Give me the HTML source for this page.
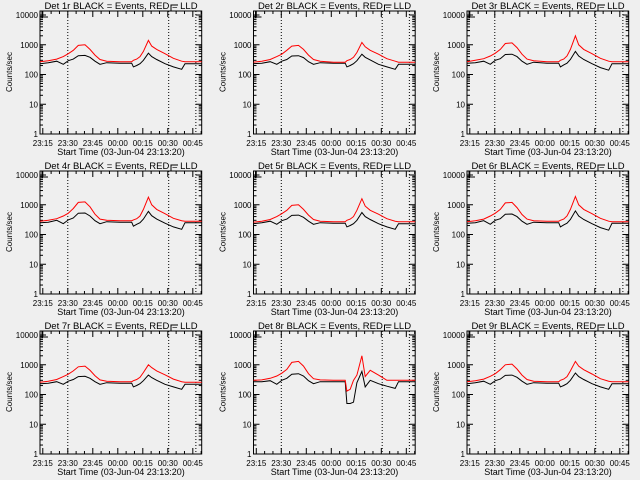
<!DOCTYPE html>
<html><head><meta charset="utf-8"><style>
html,body{margin:0;padding:0;background:#efefef;}
svg{display:block;font-family:"Liberation Sans",sans-serif;}
</style></head><body>
<svg id="c" width="640" height="480" viewBox="0 0 640 480">
<rect width="640" height="480" fill="#efefef"/>
</svg>
<script>
const titles = ["Det 1r","Det 2r","Det 3r","Det 4r","Det 5r","Det 6r","Det 7r","Det 8r","Det 9r"];
const times = [0,5,10,14,17,20,23,27,30,33,36,40,48,55,56,58,60,62,65,67,70,75,80,85,87,90,97];
const xTickLabels = ["23:15","23:30","23:45","00:00","00:15","00:30","00:45"];
const xTickMinutes = [1.67,16.67,31.67,46.67,61.67,76.67,91.67];
const dottedMinutes = [16.67,77.2,93.5];
const yTickLabels = ["1","10","100","1000","10000"];
const red = [
 [270,290,330,400,500,650,950,1000,700,450,320,280,270,270,300,330,400,600,1400,900,700,500,350,280,270,270,270],
 [260,280,320,400,480,650,900,950,700,450,320,280,260,260,290,320,380,550,1200,850,650,480,340,280,260,260,260],
 [270,300,340,420,520,700,1100,1150,800,480,330,290,270,270,300,330,420,700,2000,1000,700,500,350,280,270,270,270],
 [280,300,340,420,520,750,1200,1250,850,480,330,300,290,290,310,340,420,700,1800,1000,700,500,350,290,280,280,280],
 [260,280,320,400,500,650,950,1000,700,450,320,280,270,270,300,330,400,650,1600,900,650,480,340,280,270,270,270],
 [270,290,330,420,520,700,1150,1200,800,470,330,290,280,280,300,330,420,700,1900,1000,700,500,350,280,270,270,270],
 [260,280,320,400,480,620,850,900,650,430,310,280,270,270,290,320,380,550,1000,800,620,460,330,270,260,260,260],
 [300,310,350,420,520,700,1200,1300,900,500,340,310,300,300,130,150,300,450,2000,400,650,450,300,300,300,300,300],
 [270,290,330,410,500,680,1000,1050,720,450,320,280,270,270,300,330,400,620,1300,900,680,490,340,280,270,270,270]
];
const black = [
 [230,250,280,220,290,330,430,440,380,280,220,250,240,240,180,200,230,300,520,400,320,230,180,150,230,230,230],
 [230,240,270,220,280,320,420,430,370,270,220,250,240,240,180,200,230,290,480,380,310,220,180,150,220,220,220],
 [240,250,280,220,300,340,470,480,400,280,220,260,240,240,180,210,240,320,600,420,320,230,170,140,230,230,230],
 [250,260,300,230,310,360,520,530,420,290,230,270,260,260,190,220,250,330,600,430,330,240,180,150,250,250,250],
 [230,250,280,220,290,330,440,450,380,280,220,250,240,240,180,200,230,300,550,400,320,230,180,150,230,230,230],
 [240,250,290,220,300,340,480,490,400,280,220,260,250,250,180,210,240,320,620,420,320,230,170,140,240,240,240],
 [230,240,270,220,280,320,400,410,350,270,220,250,240,240,180,200,230,290,450,370,300,220,180,150,220,220,220],
 [270,270,290,220,300,350,480,500,420,290,230,270,270,270,50,50,55,250,600,180,300,230,190,160,270,270,270],
 [230,250,280,220,290,330,440,450,380,280,220,250,240,240,180,200,230,300,530,400,320,230,180,150,230,230,230]
];
const NS="http://www.w3.org/2000/svg";
const svg=document.getElementById('c');
function mk(tag,attrs,parent){const e=document.createElementNS(NS,tag);for(const k in attrs)e.setAttribute(k,attrs[k]);parent.appendChild(e);return e;}
const L=40,R=201.7,T=11,B=134,TMAX=97;
const yAt=v=>B-Math.log10(v)*29.75;
const xAt=t=>L+t*(R-L)/TMAX;
for(let p=0;p<9;p++){
  const g=mk('g',{transform:`translate(${(p%3)*213.5},${Math.floor(p/3)*160})`},svg);
  
  
  const box=mk('rect',{x:L,y:T,width:R-L,height:B-T,fill:'none',stroke:'#000','stroke-width':1},g);
  
  
  for(let d=0;d<=4;d++){
    const y=yAt(Math.pow(10,d));
    mk('line',{x1:L,x2:L+6,y1:y,y2:y,stroke:'#000'},g);
    mk('line',{x1:R,x2:R-6,y1:y,y2:y,stroke:'#000'},g);
    const tl=mk('text',{x:L-2,y:y+3,'font-size':8,'text-anchor':'end'},g);
    tl.textContent=yTickLabels[d];
    
    
    if(d<4)for(let m=2;m<=9;m++){const ym=yAt(m*Math.pow(10,d));
      mk('line',{x1:L,x2:L+3,y1:ym,y2:ym,stroke:'#000'},g);
      mk('line',{x1:R,x2:R-3,y1:ym,y2:ym,stroke:'#000'},g);}
  }
  for(let m=1.67;m<TMAX;m+=5){const x=xAt(m);const major=Math.abs(((m-1.67)/15)-Math.round((m-1.67)/15))<0.01;const len=major?6:3;
    mk('line',{x1:x,x2:x,y1:B,y2:B-len,stroke:'#000'},g);
    mk('line',{x1:x,x2:x,y1:T,y2:T+len,stroke:'#000'},g);}
  xTickLabels.forEach((s,i)=>{const t=mk('text',{x:xAt(xTickMinutes[i]),y:146,'font-size':8,'text-anchor':'middle'},g);t.textContent=s;
    
    });
  dottedMinutes.forEach(m=>{const x=xAt(m);const dl=mk('line',{x1:x,x2:x,y1:T,y2:B,stroke:'#000','stroke-dasharray':'1,2'},g);
    
    });
  const xt=mk('text',{x:121,y:155,'font-size':9,'text-anchor':'middle'},g);xt.textContent='Start Time (03-Jun-04 23:13:20)';
  
  
  const yt=mk('text',{x:0,y:0,'font-size':8,'text-anchor':'middle',transform:'translate(12,72) rotate(-90)'},g);yt.textContent='Counts/sec';
  
  
  const tt=mk('text',{x:121,y:9,'font-size':9.5,'text-anchor':'middle'},g);tt.textContent=titles[p]+' BLACK = Events, RED = LLD';
  
  
  mk('path',{d:'M42,11 V17 H48',fill:'none',stroke:'#000'},g);
  mk('path',{d:'M178,5 H171 V11 H178',fill:'none',stroke:'#000'},g);
  const mkLine=(arr,col,name)=>{const d=arr.map((v,i)=>(i?'L':'M')+xAt(times[i]).toFixed(1)+','+yAt(v).toFixed(1)).join(' ');
    const pl=mk('path',{d:d,fill:'none',stroke:col,'stroke-width':1},g);
    
    };
  mkLine(black[p],'#000','events-line');
  mkLine(red[p],'#ff0000','lld-line');
}
</script>
</body></html>
